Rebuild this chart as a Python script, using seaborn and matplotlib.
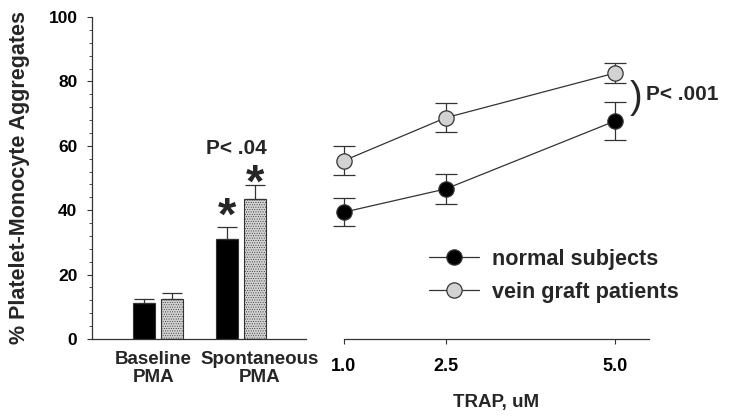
import pandas as pd
import seaborn as sns
import matplotlib.pyplot as plt
from matplotlib.ticker import MultipleLocator

# bar panel: spontaneous / baseline aggregates
conditions = ['Baseline\nPMA', 'Spontaneous\nPMA']
groups = ['normal subjects', 'vein graft patients']
normal_bar = [11.2, 31.0]
normal_bar_err = [1.2, 3.8]
graft_bar = [12.5, 43.5]
graft_bar_err = [1.7, 4.3]

# line panel: TRAP dose response
trap = [1.0, 2.5, 5.0]
normal_line = [39.4, 46.6, 67.7]
normal_line_err = [4.3, 4.6, 5.8]
graft_line = [55.4, 68.7, 82.6]
graft_line_err = [4.4, 4.5, 3.2]

sns.set_style('white')
plt.rcParams['font.family'] = ['Liberation Sans', 'DejaVu Sans']
plt.rcParams['font.weight'] = 'bold'
plt.rcParams['hatch.color'] = '#9a9a9a'
plt.rcParams['hatch.linewidth'] = 0.4

black = '#000000'
gray = '#d2d2d2'
ink = '#333333'

fig = plt.figure(figsize=(7.29, 4.2), dpi=100)
ax1 = fig.add_axes([92 / 729, 81 / 420, 214 / 729, 322 / 420])
ax2 = fig.add_axes([344 / 729, 81 / 420, 305 / 729, 322 / 420])

# ---- bars
bar_df = pd.DataFrame({
    'condition': conditions * 2,
    'group': [groups[0]] * 2 + [groups[1]] * 2,
    'value': normal_bar + graft_bar,
})
sns.barplot(data=bar_df, x='condition', y='value', hue='group',
            palette=[black, gray], width=0.675, gap=0.2,
            edgecolor=ink, linewidth=0.8, errorbar=None, legend=False, ax=ax1)

for i, p in enumerate(ax1.patches[:4]):
    if i >= 2:
        p.set_hatch('.......')
for p, err in zip(ax1.patches[:4], normal_bar_err + graft_bar_err):
    x = p.get_x() + p.get_width() / 2
    ax1.errorbar(x, p.get_height(), yerr=[[0], [err]], fmt='none',
                 ecolor=ink, elinewidth=0.9, capsize=7, capthick=0.9)

# asterisks and p value on spontaneous bars
sp = ax1.patches[1], ax1.patches[3]
for p, err, off in zip(sp, [normal_bar_err[1], graft_bar_err[1]], [4.4, 1.8]):
    ax1.text(p.get_x() + p.get_width() / 2, p.get_height() + err + off, '*',
             ha='center', va='center_baseline', fontsize=34, fontweight='bold')
ax1.text(0.94, 59.3, 'P< .04', ha='center', va='center', fontsize=15, fontweight='bold')

ax1.set_xlim(-0.795, 1.78)
ax1.set_ylim(0, 100)
ax1.set_yticks(range(0, 101, 20))
ax1.yaxis.set_minor_locator(MultipleLocator(4))
ax1.set_xticks([-0.06, 1.22])
ax1.set_xticklabels(conditions, fontsize=13.5, fontweight='bold', linespacing=1.0)
ax1.tick_params(axis='x', length=0, pad=9)
ax1.tick_params(axis='y', which='major', length=3.5, width=0.8, direction='out',
                left=True, labelsize=12.5, pad=7, colors=ink, labelcolor='black')
ax1.tick_params(axis='y', which='minor', length=2.5, width=0.6, direction='out', left=True, colors=ink)
ax1.set_xlabel('')
ax1.set_ylabel('% Platelet-Monocyte Aggregates', fontsize=15.5, fontweight='bold', labelpad=13)
for s in ['top', 'right']:
    ax1.spines[s].set_visible(False)
for s in ['left', 'bottom']:
    ax1.spines[s].set_color(ink)
    ax1.spines[s].set_linewidth(0.9)

# ---- lines
line_df = pd.DataFrame({
    'trap': trap * 2,
    'value': normal_line + graft_line,
    'group': [groups[0]] * 3 + [groups[1]] * 3,
})
for g, vals, errs, fc in [(groups[0], normal_line, normal_line_err, black),
                          (groups[1], graft_line, graft_line_err, gray)]:
    ax2.errorbar(trap, vals, yerr=errs, fmt='none', ecolor=ink,
                 elinewidth=0.9, capsize=8, capthick=0.9, zorder=2, clip_on=False)
    sns.lineplot(data=line_df[line_df['group'] == g], x='trap', y='value',
                 color=ink, linewidth=0.9, marker='o', markersize=11,
                 markerfacecolor=fc, markeredgecolor=ink, markeredgewidth=0.9,
                 label=g, ax=ax2, zorder=3, clip_on=False)

ax2.set_xlim(1.0, 5.5)
ax2.set_ylim(0, 100)
ax2.set_xticks(trap)
ax2.set_xticklabels([f'{t:.1f}' for t in trap])
ax2.set_yticks([])
ax2.tick_params(axis='x', length=3.6, width=0.8, direction='out', bottom=True,
                labelsize=13, pad=10, colors=ink, labelcolor='black')
ax2.set_xlabel('TRAP, uM', fontsize=13.5, fontweight='bold', labelpad=14)
ax2.set_ylabel('')
for s in ['top', 'right', 'left']:
    ax2.spines[s].set_visible(False)
ax2.spines['bottom'].set_color(ink)
ax2.spines['bottom'].set_linewidth(0.9)

ax2.text(5.21, 75.0, ')', ha='left', va='center', fontsize=27, fontweight='normal')
ax2.text(5.45, 75.8, 'P< .001', ha='left', va='center', fontsize=15, fontweight='bold')

leg = ax2.legend(loc='upper left', bbox_to_anchor=(0.214, 0.34), frameon=False,
                 handlelength=2.3, handletextpad=0.6, labelspacing=0.55,
                 prop={'weight': 'bold', 'size': 15.6})
ax2.set_zorder(1)

fig.savefig('out.png', dpi=100)
